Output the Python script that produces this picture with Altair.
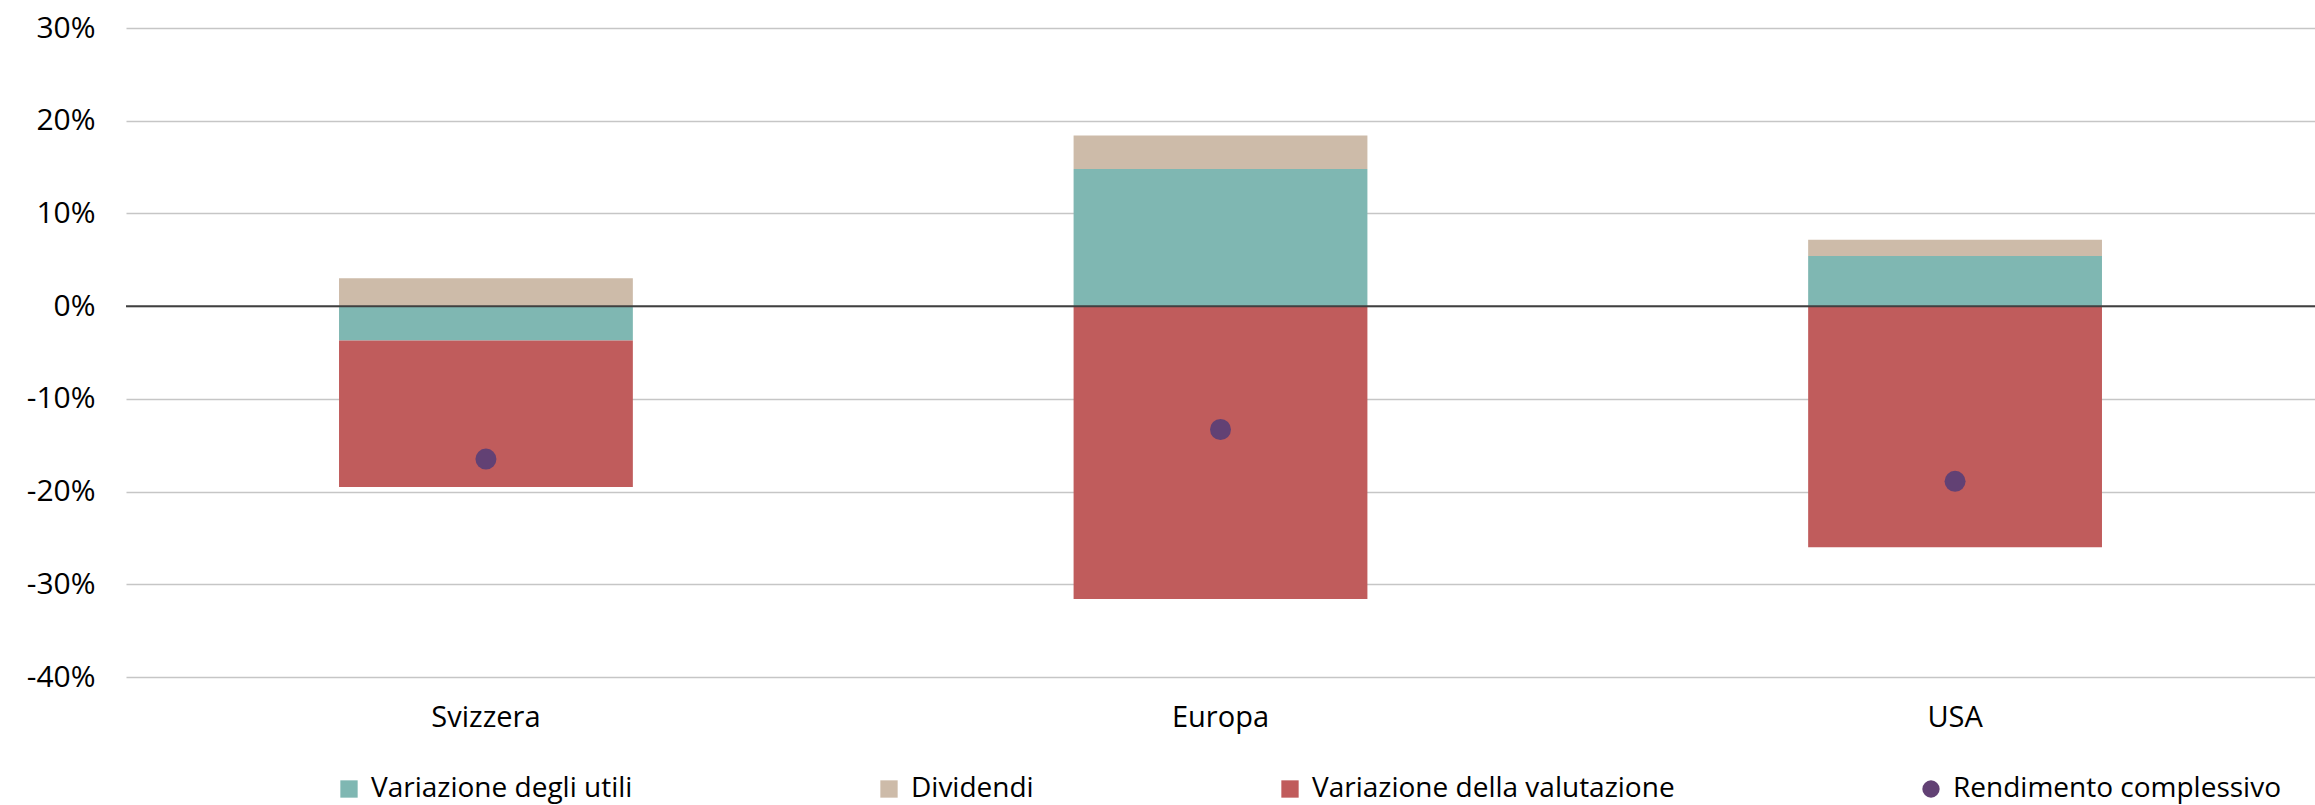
import altair as alt
import pandas as pd

# ---- data (percent) ----
categories = ["Svizzera", "Europa", "USA"]
utili = [-3.7, 14.8, 5.4]          # Variazione degli utili
dividendi = [3.0, 3.6, 1.75]       # Dividendi
valutazione = [-15.8, -31.6, -26.0]  # Variazione della valutazione
rendimento = [-16.5, -13.3, -18.9]   # Rendimento complessivo

series_names = ["Variazione degli utili", "Dividendi",
                "Variazione della valutazione", "Rendimento complessivo"]
series_colors = ["#7FB7B2", "#CDBBA9", "#C05C5C", "#624174"]
series_shapes = ["square", "square", "square", "circle"]
y_ticks = [-40, -30, -20, -10, 0, 10, 20, 30]

rows = []
for i, c in enumerate(categories):
    rows.append({"cat": c, "serie": series_names[0], "val": utili[i], "ord": 0})
    rows.append({"cat": c, "serie": series_names[1], "val": dividendi[i], "ord": 1})
    rows.append({"cat": c, "serie": series_names[2], "val": valutazione[i], "ord": 2})
bars_df = pd.DataFrame(rows)
pts_df = pd.DataFrame({"cat": categories, "serie": series_names[3], "val": rendimento})
zero_df = pd.DataFrame({"y": [0]})

FONT = "Open Sans"

color_scale = alt.Scale(domain=series_names, range=series_colors)
shape_scale = alt.Scale(domain=series_names, range=series_shapes)

legend = alt.Legend(
    orient="none", legendX=209, legendY=747, direction="horizontal",
    title=None, labelFontSize=28, labelFont=FONT, labelColor="#000000",
    symbolSize=300, columnPadding=242, labelOffset=8, labelLimit=1000,
    symbolStrokeWidth=0, symbolOpacity=1,
)

x_enc = alt.X(
    "cat:N", sort=categories, title=None,
    scale=alt.Scale(paddingInner=0.6, paddingOuter=0.29),
    axis=alt.Axis(labelAngle=0, labelFontSize=29, labelFont=FONT,
                  labelColor="#000000", ticks=False, domain=False,
                  labelPadding=26, grid=False),
)
y_scale = alt.Scale(domain=[-40, 30], nice=False, zero=False)
y_axis = alt.Axis(values=y_ticks, labelExpr="datum.value + '%'",
                  labelFontSize=30, labelFont=FONT, labelColor="#000000",
                  ticks=False, domain=False, labelPadding=31,
                  grid=True, gridColor="#C6C6C6", gridWidth=1.5)

bars = alt.Chart(bars_df).mark_bar(opacity=1).encode(
    x=x_enc,
    y=alt.Y("val:Q", stack="zero", scale=y_scale, axis=y_axis, title=None),
    color=alt.Color("serie:N", scale=color_scale, legend=legend),
    order=alt.Order("ord:Q", sort="ascending"),
)

zero = alt.Chart(zero_df).mark_rule(color="#404040", strokeWidth=2).encode(
    y=alt.Y("y:Q", scale=y_scale, title=None)
)

points = alt.Chart(pts_df).mark_point(filled=True, size=441, opacity=1).encode(
    x=alt.X("cat:N", sort=categories, title=None),
    y=alt.Y("val:Q", scale=y_scale, title=None),
    color=alt.Color("serie:N", scale=color_scale, legend=legend),
    shape=alt.Shape("serie:N", scale=shape_scale, legend=legend),
)

chart = alt.layer(bars, zero, points).properties(
    width=2189, height=649,
    padding={"left": 126, "top": 28, "right": 0, "bottom": 128},
    autosize=alt.AutoSizeParams(type="none"),
    background="white",
).configure_view(stroke=None, strokeWidth=0).configure_axis(
    domain=False, ticks=False
).configure_axisX(grid=False)

chart.save("out.html", embed_options={"renderer": "svg", "actions": False})
